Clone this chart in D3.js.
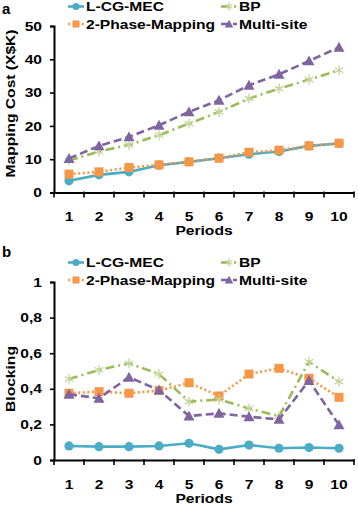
<!DOCTYPE html>
<html>
<head>
<meta charset="utf-8">
<script src="https://cdn.jsdelivr.net/npm/d3@7"></script>
<style>
  body { margin: 0; background: #fff; }
  svg { display: block; font-family: "Liberation Sans", Arial, sans-serif; font-weight: bold; }
</style>
</head>
<body>
<div id="chart"></div>
<script>
// data
const periods = [1, 2, 3, 4, 5, 6, 7, 8, 9, 10]
const seriesNames = ['L-CG-MEC', '2-Phase-Mapping', 'BP', 'Multi-site']

const costLcg   = [3.5, 5.3, 6.2, 8.2, 9.2, 10.3, 11.5, 12.3, 14.0, 14.7]
const costPhase = [5.5, 6.2, 7.5, 8.3, 9.2, 10.3, 12.1, 12.7, 14.0, 14.8]
const costBp    = [9.6, 12.3, 14.3, 17.2, 20.7, 24.2, 28.2, 31.2, 33.9, 36.7]
const costMulti = [10.2, 14.0, 16.7, 20.2, 24.2, 27.7, 32.2, 35.5, 39.5, 43.6]

const blockLcg   = [0.079, 0.075, 0.075, 0.079, 0.094, 0.06, 0.084, 0.066, 0.07, 0.066]
const blockPhase = [0.375, 0.384, 0.375, 0.39, 0.434, 0.36, 0.483, 0.515, 0.459, 0.352]
const blockBp    = [0.455, 0.506, 0.543, 0.483, 0.328, 0.34, 0.29, 0.245, 0.552, 0.44]
const blockMulti = [0.369, 0.347, 0.465, 0.393, 0.247, 0.262, 0.243, 0.228, 0.446, 0.197]

const costTicks = [0, 10, 20, 30, 40, 50]
const blockTicks = [0, 0.2, 0.4, 0.6, 0.8, 1]

// styles per series (Excel 2007 palette)
const styles = [
  { color: '#4bacc6', dash: null, marker: 'circle' },
  { color: '#f79646', dash: '2,2.6', marker: 'square' },
  { color: '#9bbb59', dash: '9,4,2,4', marker: 'star', markColor: '#c3d69b' },
  { color: '#8064a2', dash: '8,4', marker: 'triangle' },
]

const svg = d3.select('#chart').append('svg')
  .attr('width', 358).attr('height', 505)

const x = d3.scaleBand().domain(periods).range([54, 354])

function marker(g, st, cx, cy, small) {
  const k = small ? 0.78 : 1
  if (st.marker === 'circle') {
    g.append('circle').attr('cx', cx).attr('cy', cy).attr('r', 4.6 * k).attr('fill', st.color)
  } else if (st.marker === 'square') {
    const s = 9 * k
    g.append('rect').attr('x', cx - s/2).attr('y', cy - s/2).attr('width', s).attr('height', s).attr('fill', st.color)
  } else if (st.marker === 'triangle') {
    const s = 5.5 * k
    g.append('path').attr('d', `M${cx},${cy - s}L${cx + s},${cy + s*0.8}L${cx - s},${cy + s*0.8}Z`).attr('fill', st.color)
  } else {
    const s = 5 * k
    const p = `M${cx},${cy - s}V${cy + s}M${cx - s*0.87},${cy - s/2}L${cx + s*0.87},${cy + s/2}M${cx - s*0.87},${cy + s/2}L${cx + s*0.87},${cy - s/2}`
    g.append('path').attr('d', p).attr('stroke', st.markColor).attr('stroke-width', 1.3).attr('fill', 'none')
  }
}

function panel(opts) {
  const { y, ticks, fmt, data, label, labelY, legendY, title, titleY, xLabelY, periodsY } = opts
  const g = svg.append('g')

  // panel letter
  g.append('text').attr('x', 2).attr('y', labelY).style('font-size', '15px').text(label)

  // y axis
  const ya = g.append('g').attr('transform', 'translate(54,0)')
    .call(d3.axisLeft(y).tickValues(ticks).tickSize(4).tickPadding(6).tickFormat(fmt))
  ya.select('.domain').attr('stroke', '#000').attr('stroke-width', 2)
  ya.selectAll('.tick line').attr('stroke', '#000').attr('stroke-width', 1.6)
  ya.selectAll('.tick text')
    .attr('transform', 'scale(1.2,1)')
    .style('font-size', '13px').style('font-family', 'Liberation Sans, Arial, sans-serif')
    .style('font-weight', 'bold').attr('fill', '#000')

  // x axis
  const y0 = y(0)
  const xa = g.append('g').attr('transform', `translate(0,${y0})`)
    .call(d3.axisBottom(x).tickSize(0).tickSizeOuter(0))
  xa.select('.domain').attr('stroke', '#000').attr('stroke-width', 2)
  xa.selectAll('.tick text')
    .attr('y', xLabelY - y0).attr('dy', 0)
    .attr('transform', 'scale(1.2,1)')
    .style('font-size', '13px').style('font-family', 'Liberation Sans, Arial, sans-serif')
    .style('font-weight', 'bold').attr('fill', '#000')
  // tick marks between categories
  const bounds = periods.map(p => x(p)).concat([x(periods[periods.length - 1]) + x.step()])
  xa.selectAll('.btick').data(bounds).join('line')
    .attr('x1', d => d).attr('x2', d => d)
    .attr('y1', -1).attr('y2', 5)
    .attr('stroke', '#000').attr('stroke-width', 1.6)

  // axis titles
  g.append('text')
    .attr('transform', `translate(${x.range()[0] + (x.range()[1] - x.range()[0]) / 2},${periodsY}) scale(1.2,1)`)
    .attr('text-anchor', 'middle').style('font-size', '13px').text('Periods')
  g.append('text')
    .attr('transform', `translate(15,${titleY}) rotate(-90) scale(1.2,1)`)
    .attr('text-anchor', 'middle').style('font-size', '13px').text(title)

  // series
  const line = d3.line().x((d, i) => x(periods[i]) + x.bandwidth() / 2).y(d => y(d))
  data.forEach((vals, si) => {
    const st = styles[si]
    const sg = g.append('g')
    sg.append('path').attr('d', line(vals))
      .attr('fill', 'none').attr('stroke', st.color).attr('stroke-width', 2.6)
      .attr('stroke-dasharray', st.dash)
    vals.forEach((v, i) => marker(sg, st, x(periods[i]) + x.bandwidth() / 2, y(v), false))
  })

  // legend
  const cols = [68, 221]
  const rows = [legendY, legendY + 17.5]
  seriesNames.forEach((name, si) => {
    const st = styles[si]
    const lx = cols[si === 0 || si === 1 ? 0 : 1]
    const ly = rows[si === 0 || si === 2 ? 0 : 1]
    const lg = g.append('g')
    lg.append('line').attr('x1', lx).attr('x2', lx + 16).attr('y1', ly).attr('y2', ly)
      .attr('stroke', st.color).attr('stroke-width', 2.6).attr('stroke-dasharray', st.dash)
    marker(lg, st, lx + 8, ly, true)
    lg.append('text').attr('transform', `translate(${lx + 18},${ly + 4.6}) scale(1.2,1)`)
      .style('font-size', '13px').text(name)
  })
}

const commaFmt = d => d === 0 || d === 1 ? String(d) : String(d).replace('.', ',')

panel({
  y: d3.scaleLinear().domain([0, 50]).range([192.5, 26]),
  ticks: costTicks, fmt: d3.format('d'),
  data: [costLcg, costPhase, costBp, costMulti],
  label: 'a', labelY: 14, legendY: 6.5,
  title: 'Mapping Cost (X$K)', titleY: 103.5,
  xLabelY: 220.7, periodsY: 235
})

panel({
  y: d3.scaleLinear().domain([0, 1]).range([460, 282]),
  ticks: blockTicks, fmt: commaFmt,
  data: [blockLcg, blockPhase, blockBp, blockMulti],
  label: 'b', labelY: 257, legendY: 262.5,
  title: 'Blocking', titleY: 379,
  xLabelY: 489, periodsY: 503
})
</script>
</body>
</html>
